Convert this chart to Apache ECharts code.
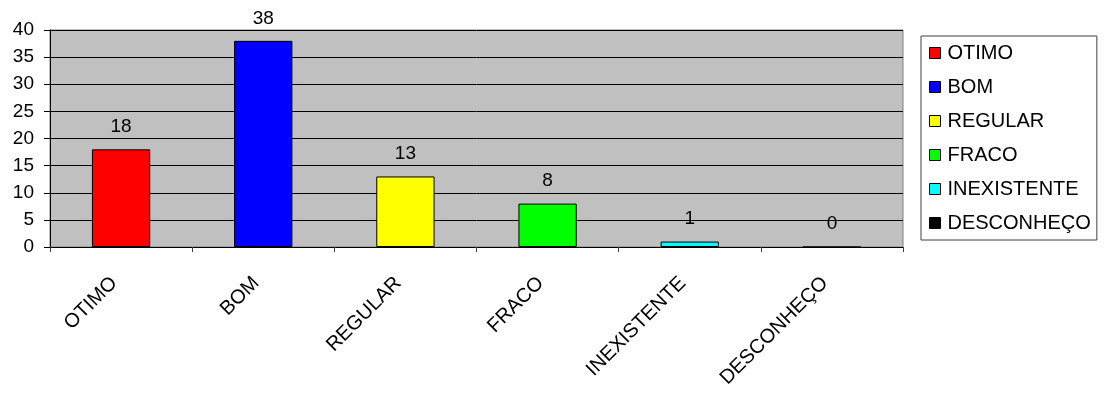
<!DOCTYPE html>
<html>
<head>
<meta charset="utf-8">
<script src="https://cdn.jsdelivr.net/npm/echarts@6/dist/echarts.min.js"></script>
<style>
html,body{margin:0;padding:0;background:#fff;}
#chart{width:1105px;height:409px;}
</style>
</head>
<body>
<div id="chart"></div>
<script>
var categories = ['OTIMO', 'BOM', 'REGULAR', 'FRACO', 'INEXISTENTE', 'DESCONHEÇO'];
var values = [18, 38, 13, 8, 1, 0];
var colors = ['#FF0000', '#0000FF', '#FFFF00', '#00FF00', '#00FFFF', '#000000'];
var yTicks = [0, 5, 10, 15, 20, 25, 30, 35, 40];

var FONT = '"Liberation Sans", Arial, sans-serif';

var series = categories.map(function (name, i) {
  var d = categories.map(function (c, j) { return j === i ? values[i] : '-'; });
  return {
    name: name,
    type: 'bar',
    stack: 'all',
    barWidth: '41%',
    data: d,
    itemStyle: { color: colors[i], borderColor: '#000', borderWidth: 1 },
    label: {
      show: true,
      position: 'top',
      distance: 13,
      color: '#000',
      fontFamily: FONT,
      fontSize: 19
    }
  };
});

var chart = echarts.init(document.getElementById('chart'), null, { renderer: 'canvas' });
chart.setOption({
  animation: false,
  backgroundColor: '#fff',
  grid: {
    left: 50, top: 30, right: 202, bottom: 162,
    show: true, backgroundColor: '#C0C0C0', borderColor: '#808080', borderWidth: 1
  },
  legend: {
    orient: 'vertical',
    left: 921, top: 36,
    padding: [7, 6, 7, 8],
    borderColor: '#404040', borderWidth: 1,
    backgroundColor: '#fff',
    itemWidth: 11, itemHeight: 11, itemGap: 14,
    icon: 'rect',
    data: categories,
    itemStyle: { borderColor: '#000', borderWidth: 1 },
    textStyle: { fontFamily: FONT, fontSize: 20, color: '#000', padding: [0, 0, 0, 2] }
  },
  xAxis: {
    type: 'category',
    data: categories,
    axisLine: { lineStyle: { color: '#000' } },
    axisTick: { show: true, alignWithLabel: false, length: 5, lineStyle: { color: '#404040' } },
    axisLabel: {
      rotate: 45, interval: 0, margin: 26, padding: [0, 10, 0, 0],
      color: '#000', fontFamily: FONT, fontSize: 20
    }
  },
  yAxis: {
    type: 'value',
    min: 0, max: 40, interval: 5,
    axisLine: { show: true, lineStyle: { color: '#000' } },
    axisTick: { show: true, length: 6, lineStyle: { color: '#000' } },
    splitLine: { show: true, lineStyle: { color: '#000', width: 1 } },
    axisLabel: {
      margin: 16, color: '#000', fontFamily: FONT, fontSize: 19,
      formatter: function (v) { return yTicks.indexOf(v) >= 0 ? String(v) : ''; }
    }
  },
  series: series
});
</script>
</body>
</html>
